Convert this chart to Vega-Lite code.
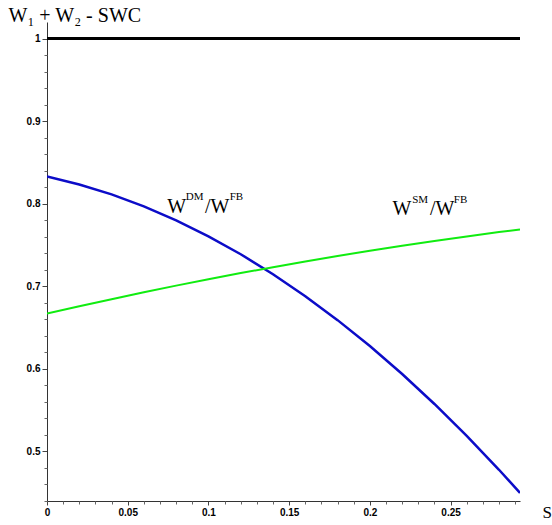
{
  "$schema": "https://vega.github.io/schema/vega-lite/v6.json",
  "autosize": "none",
  "width": 473,
  "height": 479,
  "padding": {"left": 47, "top": 22, "right": 32, "bottom": 24},
  "background": "white",
  "config": {"view": {"stroke": null}},
  "datasets": {
    "curves": [
      {"series": "one", "x": 0, "y": 1},
      {"series": "one", "x": 0.293, "y": 1},
      {"series": "DM", "x": 0, "y": 0.833},
      {"series": "DM", "x": 0.02, "y": 0.8233},
      {"series": "DM", "x": 0.04, "y": 0.8113},
      {"series": "DM", "x": 0.06, "y": 0.7968},
      {"series": "DM", "x": 0.08, "y": 0.7798},
      {"series": "DM", "x": 0.10, "y": 0.7605},
      {"series": "DM", "x": 0.12, "y": 0.7388},
      {"series": "DM", "x": 0.14, "y": 0.7146},
      {"series": "DM", "x": 0.16, "y": 0.6880},
      {"series": "DM", "x": 0.18, "y": 0.6590},
      {"series": "DM", "x": 0.20, "y": 0.6276},
      {"series": "DM", "x": 0.22, "y": 0.5938},
      {"series": "DM", "x": 0.24, "y": 0.5575},
      {"series": "DM", "x": 0.26, "y": 0.5189},
      {"series": "DM", "x": 0.28, "y": 0.4778},
      {"series": "DM", "x": 0.293, "y": 0.4498},
      {"series": "SM", "x": 0, "y": 0.667},
      {"series": "SM", "x": 0.02, "y": 0.6759},
      {"series": "SM", "x": 0.04, "y": 0.6844},
      {"series": "SM", "x": 0.06, "y": 0.6927},
      {"series": "SM", "x": 0.08, "y": 0.7008},
      {"series": "SM", "x": 0.10, "y": 0.7085},
      {"series": "SM", "x": 0.12, "y": 0.7160},
      {"series": "SM", "x": 0.14, "y": 0.7231},
      {"series": "SM", "x": 0.16, "y": 0.7300},
      {"series": "SM", "x": 0.18, "y": 0.7367},
      {"series": "SM", "x": 0.20, "y": 0.7430},
      {"series": "SM", "x": 0.22, "y": 0.7491},
      {"series": "SM", "x": 0.24, "y": 0.7548},
      {"series": "SM", "x": 0.26, "y": 0.7603},
      {"series": "SM", "x": 0.28, "y": 0.7656},
      {"series": "SM", "x": 0.293, "y": 0.7688}
    ],
    "bigText": [
      {"x": 0.0745, "y": 0.7885, "text": "W"},
      {"x": 0.0978, "y": 0.7885, "text": "/W"},
      {"x": 0.2140, "y": 0.7861, "text": "W"},
      {"x": 0.2372, "y": 0.7861, "text": "/W"}
    ],
    "supText": [
      {"x": 0.0860, "y": 0.8043, "text": "DM"},
      {"x": 0.1132, "y": 0.8043, "text": "FB"},
      {"x": 0.2262, "y": 0.8012, "text": "SM"},
      {"x": 0.2520, "y": 0.8012, "text": "FB"}
    ]
  },
  "resolve": {"axis": {"x": "independent", "y": "independent"}},
  "layer": [
    {
      "data": {"name": "curves"},
      "mark": {"type": "line", "clip": true},
      "encoding": {
        "x": {
          "field": "x", "type": "quantitative",
          "scale": {"domain": [0, 0.293], "nice": false, "zero": false},
          "axis": {
            "orient": "bottom",
            "values": [0, 0.05, 0.1, 0.15, 0.2, 0.25],
            "format": "~g",
            "grid": false,
            "domainColor": "#333333",
            "domainWidth": 1,
            "tickColor": "#444444",
            "tickSize": 4,
            "labelFont": "Liberation Sans",
            "labelFontWeight": "bold",
            "labelFontSize": 10,
            "labelColor": "black",
            "labelPadding": 2,
            "labelFlush": false,
            "labelOverlap": false,
            "title": "S",
            "titleFont": "Liberation Serif",
            "titleFontWeight": "normal",
            "titleFontSize": 17,
            "titleColor": "black",
            "titleAnchor": "start",
            "titleAlign": "left",
            "titleBaseline": "middle",
            "titleX": 495,
            "titleY": 11
          }
        },
        "y": {
          "field": "y", "type": "quantitative",
          "scale": {"domain": [0.44, 1.02], "nice": false, "zero": false},
          "axis": {
            "orient": "left",
            "values": [0.5, 0.6, 0.7, 0.8, 0.9, 1.0],
            "format": "~g",
            "grid": false,
            "domainColor": "#333333",
            "domainWidth": 1,
            "tickColor": "#444444",
            "tickSize": 5,
            "labelFont": "Liberation Sans",
            "labelFontWeight": "bold",
            "labelFontSize": 10,
            "labelColor": "black",
            "labelPadding": 2,
            "labelFlush": false,
            "labelOverlap": false,
            "title": "W₁ + W₂ - SWC",
            "titleFont": "Liberation Serif",
            "titleFontWeight": "normal",
            "titleFontSize": 20,
            "titleColor": "black",
            "titleAngle": 0,
            "titleAlign": "left",
            "titleBaseline": "middle",
            "titleX": -39,
            "titleY": -7
          }
        },
        "detail": {"field": "series"},
        "color": {
          "field": "series", "type": "nominal",
          "scale": {"domain": ["one", "DM", "SM"], "range": ["#000000", "#0c0cc8", "#10ec10"]},
          "legend": null
        },
        "strokeWidth": {
          "field": "series", "type": "nominal",
          "scale": {"domain": ["one", "DM", "SM"], "range": [3, 2, 3.5]},
          "legend": null
        }
      }
    },
    {
      "data": {"name": "bigText"},
      "mark": {"type": "text", "align": "left", "baseline": "alphabetic", "font": "Liberation Serif", "fontSize": 20, "color": "black"},
      "encoding": {
        "x": {
          "field": "x", "type": "quantitative",
          "axis": {
            "orient": "bottom",
            "values": [0.01, 0.02, 0.03, 0.04, 0.06, 0.07, 0.08, 0.09, 0.11, 0.12, 0.13, 0.14, 0.16, 0.17, 0.18, 0.19, 0.21, 0.22, 0.23, 0.24, 0.26, 0.27, 0.28, 0.29],
            "labels": false,
            "domain": false,
            "grid": false,
            "title": null,
            "tickColor": "#666666",
            "tickSize": 3
          }
        },
        "y": {
          "field": "y", "type": "quantitative",
          "axis": {
            "orient": "left",
            "values": [0.44, 0.46, 0.48, 0.52, 0.54, 0.56, 0.58, 0.62, 0.64, 0.66, 0.68, 0.72, 0.74, 0.76, 0.78, 0.82, 0.84, 0.86, 0.88, 0.92, 0.94, 0.96, 0.98],
            "labels": false,
            "domain": false,
            "grid": false,
            "title": null,
            "tickColor": "#666666",
            "tickSize": 3
          }
        },
        "text": {"field": "text"}
      }
    },
    {
      "data": {"name": "supText"},
      "mark": {"type": "text", "align": "left", "baseline": "alphabetic", "font": "Liberation Serif", "fontSize": 11, "color": "black"},
      "encoding": {
        "x": {"field": "x", "type": "quantitative", "axis": null},
        "y": {"field": "y", "type": "quantitative", "axis": null},
        "text": {"field": "text"}
      }
    }
  ]
}
